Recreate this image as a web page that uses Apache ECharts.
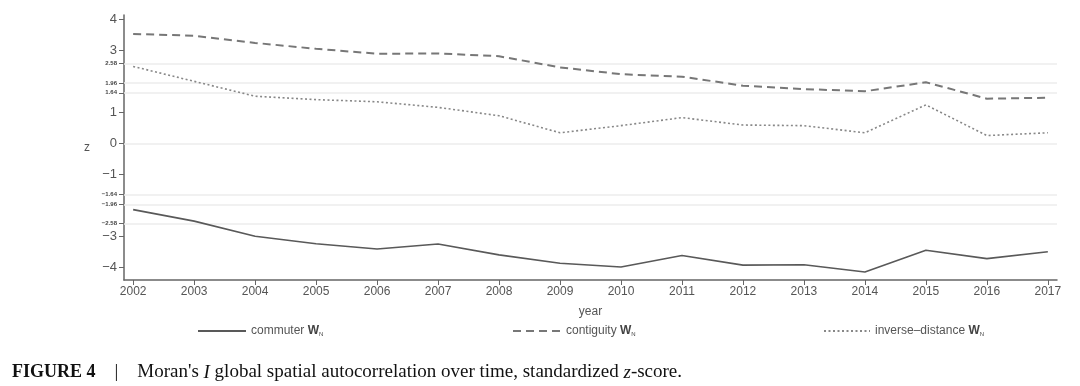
<!DOCTYPE html>
<html>
<head>
<meta charset="utf-8">
<script src="https://cdn.jsdelivr.net/npm/echarts@6/dist/echarts.min.js"></script>
<style>html,body{margin:0;padding:0;background:#fff;}#c{width:1080px;height:386px;}</style>
</head>
<body>
<div id="c"></div>
<script>
const years = [2002,2003,2004,2005,2006,2007,2008,2009,2010,2011,2012,2013,2014,2015,2016,2017];
const commuter = [-2.13,-2.50,-2.99,-3.23,-3.40,-3.24,-3.59,-3.86,-3.98,-3.61,-3.92,-3.91,-4.14,-3.44,-3.71,-3.49];
const contiguity = [3.54,3.48,3.25,3.06,2.90,2.91,2.82,2.46,2.24,2.16,1.87,1.76,1.69,1.98,1.45,1.48];
const inverseDistance = [2.49,2.01,1.53,1.42,1.35,1.17,0.90,0.35,0.58,0.84,0.60,0.58,0.35,1.25,0.26,0.35];
const yMajorTicks = [-4,-3,-1,0,1,3,4];
const yCriticalTicks = [-2.58,-1.96,-1.64,1.64,1.96,2.58];
const refLines = [-2.58,-1.96,-1.64,0,1.64,1.96,2.58];
const seriesNames = ['commuter','contiguity','inverse\u2013distance'];

const yTicks = yMajorTicks.concat(yCriticalTicks).sort((a,b)=>a-b);
const fmtNum = v => (v < 0 ? '\u2212' : '') + Math.abs(v);

const chart = echarts.init(document.getElementById('c'));
const lineCommon = {type:'line', showSymbol:false, symbol:'none', silent:true, animation:false};
const legendText = {
  color:'#555', fontFamily:'Liberation Sans', fontSize:12,
  rich:{
    w:{fontWeight:'bold', fontSize:12, color:'#444', fontFamily:'Liberation Sans'},
    n:{fontSize:6, color:'#444', fontFamily:'Liberation Sans', padding:[6,0,0,0]}
  }
};
const legendFmt = name => name + ' {w|W}{n|N}';
const legendBase = {top:320, itemHeight:10, formatter:legendFmt, textStyle:legendText, selectedMode:false, itemStyle:{opacity:0}};
chart.setOption({
  animation:false,
  grid:{left:124, right:23, top:15, bottom:106, containLabel:false},
  xAxis:{
    type:'value', min:2001.85, max:2017.15,
    name:'year', nameLocation:'middle', nameGap:26,
    nameTextStyle:{color:'#555', fontSize:12, fontFamily:'Liberation Sans'},
    axisLine:{show:true, onZero:false, lineStyle:{color:'#666', width:1.5}},
    axisTick:{show:true, customValues:years, length:5, lineStyle:{color:'#666'}},
    axisLabel:{customValues:years, formatter: v => String(v), color:'#555', fontSize:12, fontFamily:'Liberation Sans', margin:6},
    splitLine:{show:false}
  },
  yAxis:{
    type:'value', min:-4.4, max:4.15,
    name:'z', nameLocation:'middle', nameGap:34, nameRotate:0,
    nameTextStyle:{color:'#555', fontSize:12, fontFamily:'Liberation Sans'},
    axisLine:{show:true, onZero:false, lineStyle:{color:'#666', width:1.5}},
    axisTick:{show:true, customValues:yTicks, length:5, lineStyle:{color:'#666'}},
    axisLabel:{
      customValues:yTicks, margin:7,
      formatter: v => (yMajorTicks.indexOf(v) >= 0 ? '{b|' + fmtNum(v) + '}' : '{s|' + fmtNum(v) + '}'),
      rich:{
        b:{fontSize:13, color:'#555', fontFamily:'Liberation Sans'},
        s:{fontSize:6, color:'#444', fontWeight:'bold', fontFamily:'Liberation Sans'}
      }
    },
    splitLine:{show:false}
  },
  legend:[
    Object.assign({}, legendBase, {data:[seriesNames[0]], left:192, itemWidth:48}),
    Object.assign({}, legendBase, {data:[seriesNames[1]], left:507, itemWidth:48}),
    Object.assign({}, legendBase, {data:[seriesNames[2]], left:818, itemWidth:46})
  ],
  series:[
    Object.assign({}, lineCommon, {
      name:seriesNames[0], z:3,
      data:years.map((y,i)=>[y, commuter[i]]),
      lineStyle:{color:'#595959', width:1.6, type:'solid'},
      itemStyle:{color:'#595959'},
      markLine:{
        silent:true, symbol:['none','none'], label:{show:false}, z:1,
        lineStyle:{color:'#ececec', width:1.5, type:'solid'},
        data:refLines.map(v=>({yAxis:v}))
      }
    }),
    Object.assign({}, lineCommon, {
      name:seriesNames[1], z:3,
      data:years.map((y,i)=>[y, contiguity[i]]),
      lineStyle:{color:'#777', width:2, type:[8,5]},
      itemStyle:{color:'#777'}
    }),
    Object.assign({}, lineCommon, {
      name:seriesNames[2], z:3,
      data:years.map((y,i)=>[y, inverseDistance[i]]),
      lineStyle:{color:'#888', width:1.6, type:[2,2.5]},
      itemStyle:{color:'#888'}
    })
  ],
  graphic:[{
    type:'text', left:12, top:363, silent:true,
    style:{
      text:'{b|FIGURE 4}{n|    |    Moran\'s }{i|I}{n| global spatial autocorrelation over time, standardized }{i|z}{n|-score.}',
      rich:{
        b:{fontFamily:'Liberation Serif', fontWeight:'bold', fontSize:18, fill:'#111'},
        n:{fontFamily:'Liberation Serif', fontSize:19, fill:'#111'},
        i:{fontFamily:'Liberation Serif', fontStyle:'italic', fontSize:19, fill:'#111'}
      }
    }
  }]
});
</script>
</body>
</html>
